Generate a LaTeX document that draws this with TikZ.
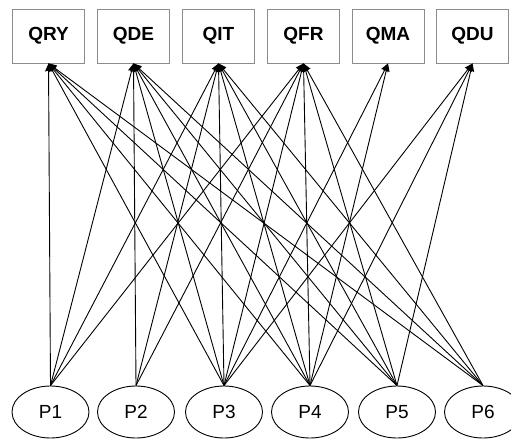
\documentclass[tikz,border=0pt]{standalone}
\usepackage{fontspec}
\setmainfont{Liberation Sans}
\usetikzlibrary{arrows.meta,shapes.geometric}
\begin{document}
\begin{tikzpicture}[x=1pt,y=-1pt,
  qbox/.style={draw=black!45, line width=0.9pt, minimum width=72pt, minimum height=54pt, inner sep=0pt, font=\fontsize{19}{19}\selectfont\bfseries},
  pell/.style={draw=black, line width=0.9pt, ellipse, minimum width=77pt, minimum height=52pt, inner sep=0pt, font=\fontsize{19}{19}\selectfont},
  edge/.style={draw=black, line width=0.9pt, -{Stealth[length=8pt,width=7pt,inset=1pt]}}]
\useasboundingbox (0,0) rectangle (511,439);
\node[qbox] (QRY) at (48.5,36) {QRY};
\node[qbox] (QDE) at (133.5,36) {QDE};
\node[qbox] (QIT) at (218.5,36) {QIT};
\node[qbox] (QFR) at (303.5,36) {QFR};
\node[qbox] (QMA) at (388,36) {QMA};
\node[qbox] (QDU) at (472.5,36) {QDU};
\node[pell] (P1) at (50.5,412) {P1};
\node[pell] (P2) at (136,412) {P2};
\node[pell] (P3) at (224,412) {P3};
\node[pell] (P4) at (310,412) {P4};
\node[pell] (P5) at (397,412) {P5};
\node[pell] (P6) at (483,412) {P6};
\foreach \p in {P1,P3,P4,P5,P6} \draw[edge] (\p.north) -- (QRY.south);
\foreach \p in {P1,P2,P3,P4,P5,P6} \draw[edge] (\p.north) -- (QDE.south);
\foreach \p in {P1,P2,P3,P4,P5,P6} \draw[edge] (\p.north) -- (QIT.south);
\foreach \p in {P1,P2,P3,P4,P5,P6} \draw[edge] (\p.north) -- (QFR.south);
\foreach \p in {P3,P4} \draw[edge] (\p.north) -- (QMA.south);
\foreach \p in {P3,P4,P5} \draw[edge] (\p.north) -- (QDU.south);
\end{tikzpicture}
\end{document}
